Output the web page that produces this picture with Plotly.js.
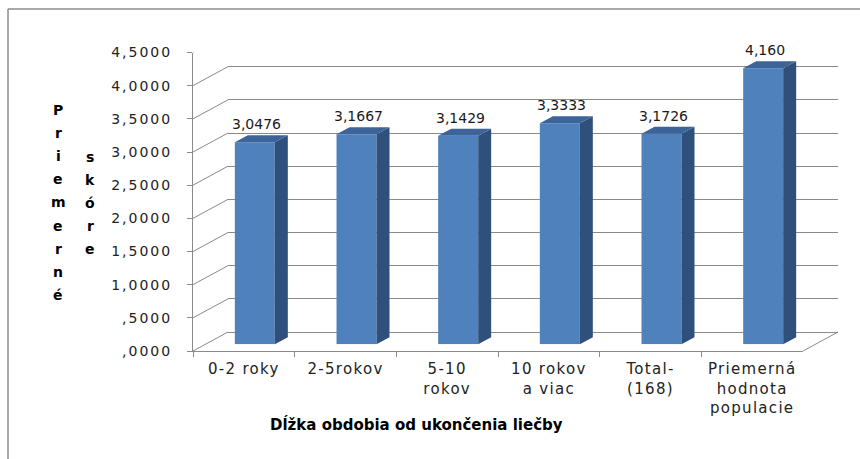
<!DOCTYPE html>
<html>
<head>
<meta charset="utf-8">
<script src="https://cdn.plot.ly/plotly-3.0.1.min.js"></script>
<style>
  html, body { margin: 0; padding: 0; background: #fff; }
  #chart { width: 860px; height: 459px; }
  .y3tick text, .ytick text { letter-spacing: 2px; }
  .x3tick text, .xtick text { letter-spacing: 1.3px; }
</style>
</head>
<body>
<div id="chart"></div>
<script>
// ---- data ----
const categories = ["0-2 roky", "2-5rokov", "5-10<br>rokov", "10 rokov<br>a viac", "Total-<br>(168)", "Priemerná<br>hodnota<br>populacie"];
const values = [3.0476, 3.1667, 3.1429, 3.3333, 3.1726, 4.160];
const valueLabels = ["3,0476", "3,1667", "3,1429", "3,3333", "3,1726", "4,160"];
const yTickVals = [0, 0.5, 1, 1.5, 2, 2.5, 3, 3.5, 4, 4.5];
const yTickText = [",0000", ",5000", "1,0000", "1,5000", "2,0000", "2,5000", "3,0000", "3,5000", "4,0000", "4,5000"];
const yTitleLeft = "Priemerné";
const yTitleRight = "skóre";
const xTitle = "Dĺžka obdobia od ukončenia liečby";

// ---- layout geometry (pixels) ----
const W = 860, H = 459;
const fx = px => px / W;
const fy = py => (H - py) / H;
const yMax = 4.5;
const frontLeft = 193, frontRight = 803, frontZero = 351, frontTop = 52.5;
const plotH = frontZero - frontTop;
const pxPerUnit = plotH / yMax;
const backDX = 35, backDY = 19;
const barDX = 11, barDY = 6.7;
const faceHalf = 20, depthX = 13, depthYpx = 7;
const depthY = depthYpx / pxPerUnit;
const catW = (frontRight - frontLeft) / categories.length;
const gridColor = "#8a8a8a";
const idx = categories.map((_, i) => i);

const traces = [
  { // back wall (grid only)
    type: "scatter", mode: "markers", x: [0.5], y: [0], xaxis: "x", yaxis: "y",
    marker: { opacity: 0 }, hoverinfo: "skip", showlegend: false
  },
  { // bars
    type: "bar", x: idx, y: values, xaxis: "x2", yaxis: "y2",
    width: (2 * faceHalf) / catW,
    marker: { color: "#4f81bd", line: { width: 0 } },
    hoverinfo: "y", showlegend: false
  },
  { // front category axis carrier
    type: "scatter", mode: "markers", x: categories, y: values,
    xaxis: "x3", yaxis: "y3", marker: { opacity: 0 }, hoverinfo: "skip", showlegend: false
  }
];

const shapes = [];
shapes.push({ type: "line", xref: "paper", yref: "paper", x0: fx(8), x1: fx(8), y0: fy(9), y1: 0, line: { color: "#8c8c8c", width: 1.5 }, layer: "below" });
shapes.push({ type: "line", xref: "paper", yref: "paper", x0: fx(8), x1: 1, y0: fy(9), y1: fy(9), line: { color: "#8c8c8c", width: 1.5 }, layer: "below" });
yTickVals.forEach(v => {
  shapes.push({ type: "line", xref: "paper", yref: "y3", ysizemode: "pixel", yanchor: v,
    x0: fx(frontLeft), x1: fx(frontLeft + backDX), y0: 0, y1: backDY,
    line: { color: gridColor, width: 1 }, layer: "below" });
});
shapes.push({ type: "line", xref: "paper", yref: "y3", ysizemode: "pixel", yanchor: 0,
  x0: fx(frontRight), x1: fx(frontRight + backDX), y0: 0, y1: backDY,
  line: { color: gridColor, width: 1 }, layer: "below" });
values.forEach((v, i) => {
  shapes.push({ type: "path", xref: "x2", yref: "y2", xsizemode: "pixel", xanchor: i,
    path: `M ${faceHalf},0 L ${faceHalf},${v} L ${faceHalf + depthX},${v + depthY} L ${faceHalf + depthX},${depthY} Z`,
    fillcolor: "#30507c", line: { width: 0 }, layer: "above" });
  shapes.push({ type: "path", xref: "x2", yref: "y2", xsizemode: "pixel", xanchor: i,
    path: `M ${-faceHalf},${v} L ${faceHalf},${v} L ${faceHalf + depthX},${v + depthY} L ${-faceHalf + depthX},${v + depthY} Z`,
    fillcolor: "#3d6498", line: { width: 0 }, layer: "above" });
});

const annotations = [];
values.forEach((v, i) => {
  annotations.push({ xref: "x2", yref: "y2", x: i, y: v, text: valueLabels[i], showarrow: false,
    yanchor: "bottom", xanchor: "center", yshift: 8, xshift: 2,
    font: { family: "DejaVu Sans", size: 14, color: "#1a1a1a" } });
});
annotations.push({ xref: "paper", yref: "paper", x: fx(416), y: fy(424), text: "<b>" + xTitle + "</b>",
  showarrow: false, xanchor: "center", yanchor: "middle",
  font: { family: "DejaVu Sans", size: 15, color: "#000" } });
yTitleLeft.split("").forEach((ch, k) => {
  annotations.push({ xref: "paper", yref: "paper", x: fx(58), y: fy(110 + 23.1 * k), text: "<b>" + ch + "</b>",
    showarrow: false, xanchor: "center", yanchor: "middle", font: { family: "DejaVu Sans", size: 14, color: "#000" } });
});
yTitleRight.split("").forEach((ch, k) => {
  annotations.push({ xref: "paper", yref: "paper", x: fx(90), y: fy(157 + 23.1 * k), text: "<b>" + ch + "</b>",
    showarrow: false, xanchor: "center", yanchor: "middle", font: { family: "DejaVu Sans", size: 14, color: "#000" } });
});

const layout = {
  width: W, height: H,
  margin: { l: 0, r: 0, t: 0, b: 0, pad: 0 },
  paper_bgcolor: "#fff", plot_bgcolor: "rgba(0,0,0,0)",
  showlegend: false,
  font: { family: "DejaVu Sans", color: "#222" },
  xaxis: {
    domain: [fx(frontLeft + backDX), fx(frontRight + backDX)], range: [0, 1],
    anchor: "y", showgrid: false, zeroline: false, showline: false, showticklabels: false, ticks: "", fixedrange: true
  },
  yaxis: {
    domain: [fy(frontZero - backDY), fy(frontTop - backDY)], range: [0, yMax],
    anchor: "x", tickvals: yTickVals, showgrid: true, gridcolor: gridColor, gridwidth: 1,
    zeroline: true, zerolinecolor: gridColor, zerolinewidth: 1,
    showline: false, showticklabels: false, ticks: "", fixedrange: true
  },
  xaxis2: {
    domain: [fx(frontLeft + barDX), fx(frontRight + barDX)], range: [-0.5, categories.length - 0.5],
    anchor: "y2", visible: false, fixedrange: true
  },
  yaxis2: {
    domain: [fy(frontZero - barDY), fy(frontTop - barDY)], range: [0, yMax],
    anchor: "x2", visible: false, fixedrange: true
  },
  xaxis3: {
    type: "category", domain: [fx(frontLeft), fx(frontRight)], range: [-0.5, categories.length - 0.5],
    categoryarray: categories, anchor: "y3",
    showline: true, linecolor: gridColor, linewidth: 1,
    ticks: "outside", ticklen: 5, tickcolor: gridColor, tickson: "boundaries",
    showgrid: false, zeroline: false, ticklabelstandoff: 4,
    tickfont: { family: "DejaVu Sans", size: 15, color: "#222" }, fixedrange: true
  },
  yaxis3: {
    domain: [fy(frontZero), fy(frontTop)], range: [0, yMax], anchor: "x3",
    tickvals: yTickVals, ticktext: yTickText,
    showline: true, linecolor: gridColor, linewidth: 1,
    ticks: "outside", ticklen: 5, tickcolor: gridColor, ticklabelstandoff: 12,
    showgrid: false, zeroline: false,
    tickfont: { family: "DejaVu Sans", size: 14, color: "#222" }, fixedrange: true
  },
  shapes: shapes,
  annotations: annotations
};

Plotly.newPlot("chart", traces, layout, { staticPlot: true, displayModeBar: false });
</script>
</body>
</html>
